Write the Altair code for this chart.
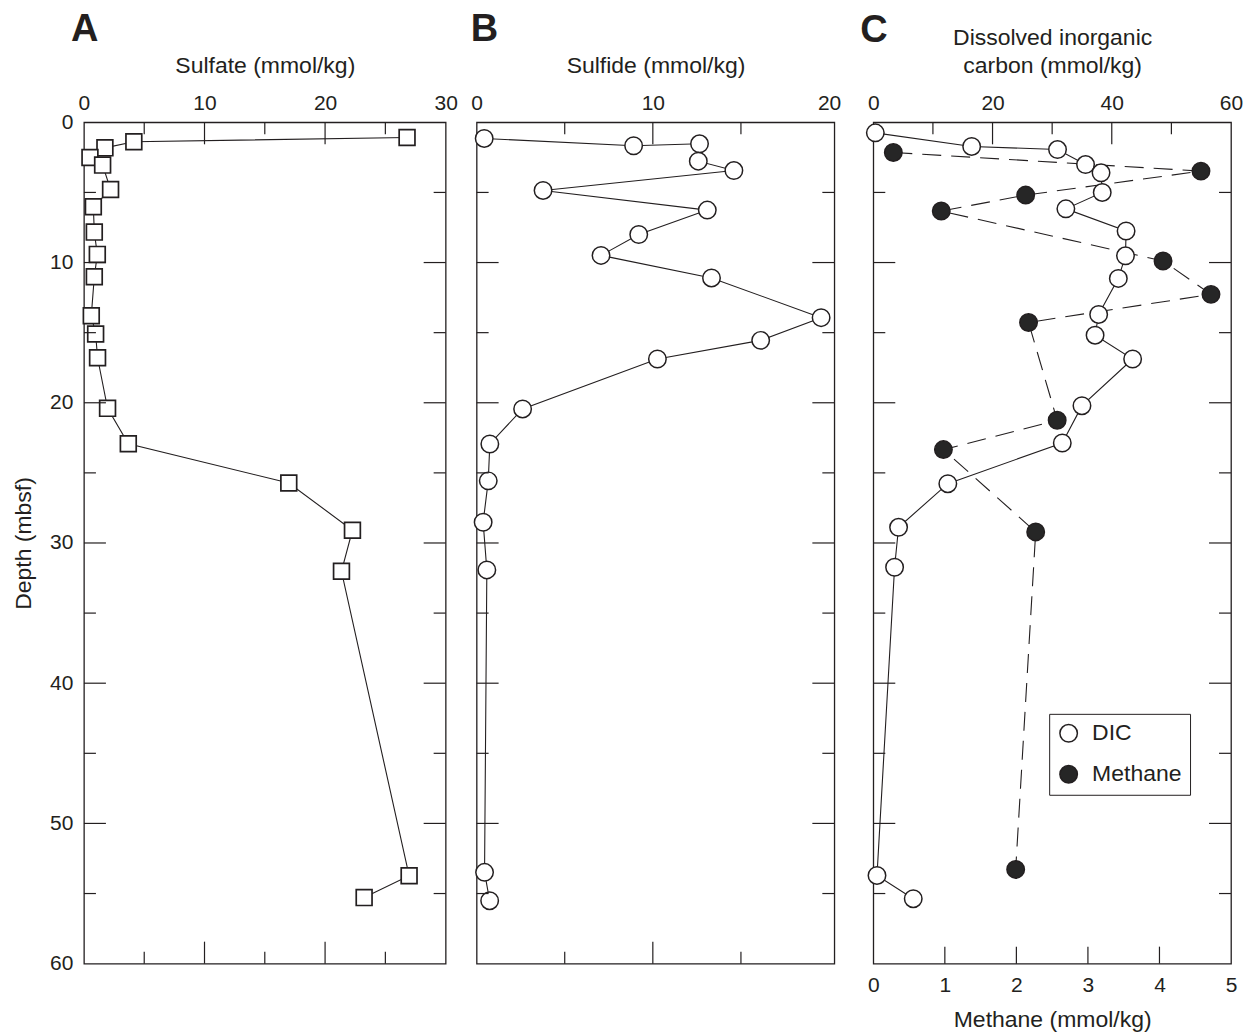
import altair as alt
import pandas as pd

FONT = "Liberation Sans"
INK = "#231f20"

# ---------------- Panel A : sulfate ----------------
sulfate_depth = [1.08, 1.39, 1.82, 2.51, 3.05, 4.79, 6.02, 7.83, 9.42, 11.01,
                 13.79, 15.10, 16.79, 20.40, 22.92, 25.72, 29.09, 32.02, 53.73, 55.29]
sulfate = [26.8, 4.14, 1.74, 0.50, 1.55, 2.21, 0.78, 0.86, 1.11, 0.86,
           0.61, 0.97, 1.13, 1.96, 3.68, 16.99, 22.27, 21.36, 26.97, 23.24]

# ---------------- Panel B : sulfide ----------------
sulfide_depth = [1.15, 1.67, 1.53, 2.77, 3.44, 4.86, 6.26, 8.00, 9.49, 11.10,
                 13.93, 15.55, 16.88, 20.44, 22.94, 25.57, 28.52, 31.92, 53.49, 55.51]
sulfide = [0.43, 8.91, 12.65, 12.58, 14.60, 3.77, 13.09, 9.20, 7.06, 13.33,
           19.55, 16.12, 10.26, 2.61, 0.75, 0.66, 0.37, 0.58, 0.45, 0.74]

# ---------------- Panel C : DIC and methane ----------------
dic_depth = [0.75, 1.72, 1.94, 3.01, 3.60, 5.00, 6.17, 7.75, 9.52, 11.13,
             13.70, 15.18, 16.88, 20.21, 22.87, 25.77, 28.88, 31.73, 53.71, 55.37]
dic = [0.34, 16.5, 30.9, 35.6, 38.2, 38.4, 32.3, 42.4, 42.3, 41.1,
       37.8, 37.2, 43.5, 35.0, 31.7, 12.5, 4.24, 3.57, 0.62, 6.70]
methane_depth = [2.15, 3.48, 5.19, 6.33, 9.89, 12.27, 14.27, 21.25, 23.34, 29.21, 53.28]
methane = [0.28, 4.58, 2.13, 0.95, 4.05, 4.72, 2.17, 2.57, 0.98, 2.27, 1.99]

# ---------------- tick values / labels ----------------
depth_labels = [0, 10, 20, 30, 40, 50, 60]
depth_major = [10, 20, 30, 40, 50]
depth_minor = [5, 15, 25, 35, 45, 55]
sulfate_labels = [0, 10, 20, 30]
sulfate_major = [10, 20]
sulfate_minor = [5, 15, 25]
sulfide_labels = [0, 10, 20]
sulfide_major = [10]
sulfide_minor = [5, 15]
dic_labels = [0, 20, 40, 60]
dic_major = [20, 40]
dic_minor = [10, 30, 50]
methane_labels = [0, 1, 2, 3, 4, 5]
methane_ticks = [1, 2, 3, 4]
series_names = ["DIC", "Methane"]

H = 842
WA, WB, WC = 362, 358, 358
MAJ, MIN = 22, 12

ys = alt.Scale(domain=[0, 60], reverse=True, nice=False, zero=False)
yax_A = alt.Axis(orient="left", values=depth_labels, title="Depth (mbsf)",
                 labelPadding=11, titlePadding=14)


def ytick_layers(yax, W):
    out = []
    for vals, L in ((depth_major, MAJ), (depth_minor, MIN)):
        df = pd.DataFrame({"depth": vals})
        base = alt.Chart(df).mark_rule(color=INK, strokeWidth=1.2)
        yenc = alt.Y("depth:Q", scale=ys, axis=yax)
        out.append(base.encode(y=yenc, x=alt.value(0), x2=alt.value(L)))
        out.append(base.encode(y=yenc, x=alt.value(W), x2=alt.value(W - L)))
    return out


def xtick_layers(field, xs, xax, groups, top=True, bottom=True):
    out = []
    for vals, L in groups:
        df = pd.DataFrame({field: vals})
        base = alt.Chart(df).mark_rule(color=INK, strokeWidth=1.2)
        xenc = alt.X(f"{field}:Q", scale=xs, axis=xax)
        if top:
            out.append(base.encode(x=xenc, y=alt.value(0), y2=alt.value(L)))
        if bottom:
            out.append(base.encode(x=xenc, y=alt.value(H), y2=alt.value(H - L)))
    return out


def letter(txt, dx, offset):
    return alt.TitleParams(text=txt, anchor="start", frame="group", dx=dx, offset=offset,
                           fontSize=38, font=FONT, fontWeight="bold", color=INK)


# ---- Panel A ----
dfA = pd.DataFrame({"depth": sulfate_depth, "v": sulfate, "i": range(len(sulfate))})
xsA = alt.Scale(domain=[0, 30], nice=False, zero=False)
xaxA = alt.Axis(orient="top", values=sulfate_labels, title="Sulfate (mmol/kg)",
                labelPadding=9, titlePadding=15, labelFlush=False)
lineA = alt.Chart(dfA).mark_line(color=INK, strokeWidth=1.1).encode(
    x=alt.X("v:Q", scale=xsA, axis=xaxA), y=alt.Y("depth:Q", scale=ys, axis=yax_A),
    order=alt.Order("i:Q"))
ptsA = alt.Chart(dfA).mark_point(shape="square", filled=True, fill="white", stroke=INK,
                                 strokeWidth=1.7, size=250, opacity=1).encode(
    x=alt.X("v:Q", scale=xsA, axis=xaxA), y=alt.Y("depth:Q", scale=ys, axis=yax_A))
A = alt.layer(lineA, ptsA,
              *xtick_layers("v", xsA, xaxA, [(sulfate_major, MAJ), (sulfate_minor, MIN)]),
              *ytick_layers(yax_A, WA)).properties(width=WA, height=H, title=letter("A", -13, 5))

# ---- Panel B ----
dfB = pd.DataFrame({"depth": sulfide_depth, "v": sulfide, "i": range(len(sulfide))})
xsB = alt.Scale(domain=[0, 20.3], nice=False, zero=False)
xaxB = alt.Axis(orient="top", values=sulfide_labels, title="Sulfide (mmol/kg)",
                labelPadding=9, titlePadding=15, labelFlush=False)
lineB = alt.Chart(dfB).mark_line(color=INK, strokeWidth=1.1).encode(
    x=alt.X("v:Q", scale=xsB, axis=xaxB), y=alt.Y("depth:Q", scale=ys, axis=None),
    order=alt.Order("i:Q"))
ptsB = alt.Chart(dfB).mark_point(shape="circle", filled=True, fill="white", stroke=INK,
                                 strokeWidth=1.5, size=306, opacity=1).encode(
    x=alt.X("v:Q", scale=xsB, axis=xaxB), y=alt.Y("depth:Q", scale=ys, axis=None))
B = alt.layer(lineB, ptsB,
              *xtick_layers("v", xsB, xaxB, [(sulfide_major, MAJ), (sulfide_minor, MIN)]),
              *ytick_layers(None, WB)).properties(width=WB, height=H, title=letter("B", -6, 5))

# ---- Panel C ----
fill_scale = alt.Scale(domain=series_names, range=["white", "#262626"])
leg = alt.Legend(title=None, orient="none", legendX=966, legendY=592, strokeColor=INK,
                 fillColor="white", padding=8, symbolType="circle", symbolSize=306,
                 symbolStrokeColor=INK, symbolStrokeWidth=1.5, labelFontSize=23,
                 labelFont=FONT, labelColor=INK, rowPadding=16, labelOffset=12)

dfD = pd.DataFrame({"depth": dic_depth, "d": dic, "i": range(len(dic)),
                    "series": [series_names[0]] * len(dic)})
dfM = pd.DataFrame({"depth": methane_depth, "m": methane, "i": range(len(methane)),
                    "series": [series_names[1]] * len(methane)})
xsD = alt.Scale(domain=[0, 60], nice=False, zero=False)
xsM = alt.Scale(domain=[0, 5], nice=False, zero=False)
xaxD = alt.Axis(orient="top", values=dic_labels,
                title=["Dissolved inorganic", "carbon (mmol/kg)"],
                labelPadding=9, titlePadding=15, labelFlush=False, titleLineHeight=28)
xaxM = alt.Axis(orient="bottom", values=methane_labels, title="Methane (mmol/kg)",
                labelPadding=11, titlePadding=13, labelFlush=False)

lineM = alt.Chart(dfM).mark_line(color=INK, strokeWidth=1.1, strokeDash=[19, 10]).encode(
    x=alt.X("m:Q", scale=xsM, axis=xaxM), y=alt.Y("depth:Q", scale=ys, axis=None),
    order=alt.Order("i:Q"))
ptsM = alt.Chart(dfM).mark_point(shape="circle", filled=True, stroke=INK, strokeWidth=1.5,
                                 size=306, opacity=1).encode(
    x=alt.X("m:Q", scale=xsM, axis=xaxM), y=alt.Y("depth:Q", scale=ys, axis=None),
    fill=alt.Fill("series:N", scale=fill_scale, legend=leg))
meth_layer = alt.layer(lineM, ptsM,
                       *xtick_layers("m", xsM, xaxM, [(methane_ticks, 17)], top=False))

lineD = alt.Chart(dfD).mark_line(color=INK, strokeWidth=1.1).encode(
    x=alt.X("d:Q", scale=xsD, axis=xaxD), y=alt.Y("depth:Q", scale=ys, axis=None),
    order=alt.Order("i:Q"))
ptsD = alt.Chart(dfD).mark_point(shape="circle", filled=True, stroke=INK, strokeWidth=1.5,
                                 size=306, opacity=1).encode(
    x=alt.X("d:Q", scale=xsD, axis=xaxD), y=alt.Y("depth:Q", scale=ys, axis=None),
    fill=alt.Fill("series:N", scale=fill_scale, legend=leg))
dic_layer = alt.layer(lineD, ptsD,
                      *xtick_layers("d", xsD, xaxD, [(dic_major, MAJ), (dic_minor, MIN)],
                                    bottom=False))

C = alt.layer(meth_layer, dic_layer, *ytick_layers(None, WC)).resolve_scale(
    x="independent").properties(width=WC, height=H, title=letter("C", -13, -24))

chart = alt.hconcat(
    A, alt.hconcat(B, C, spacing=39, bounds="flush"), spacing=31, bounds="flush"
).properties(
    padding={"left": 3, "top": 2, "right": 0, "bottom": 0}
).configure_view(
    stroke=INK, strokeWidth=1.3
).configure_axis(
    labelFont=FONT, labelFontSize=21, labelColor=INK, titleFont=FONT, titleFontSize=23,
    titleFontWeight="normal", titleColor=INK, grid=False, ticks=False, tickSize=0, domain=False
)

chart.save("out.html", embed_options={"renderer": "svg", "actions": False})
